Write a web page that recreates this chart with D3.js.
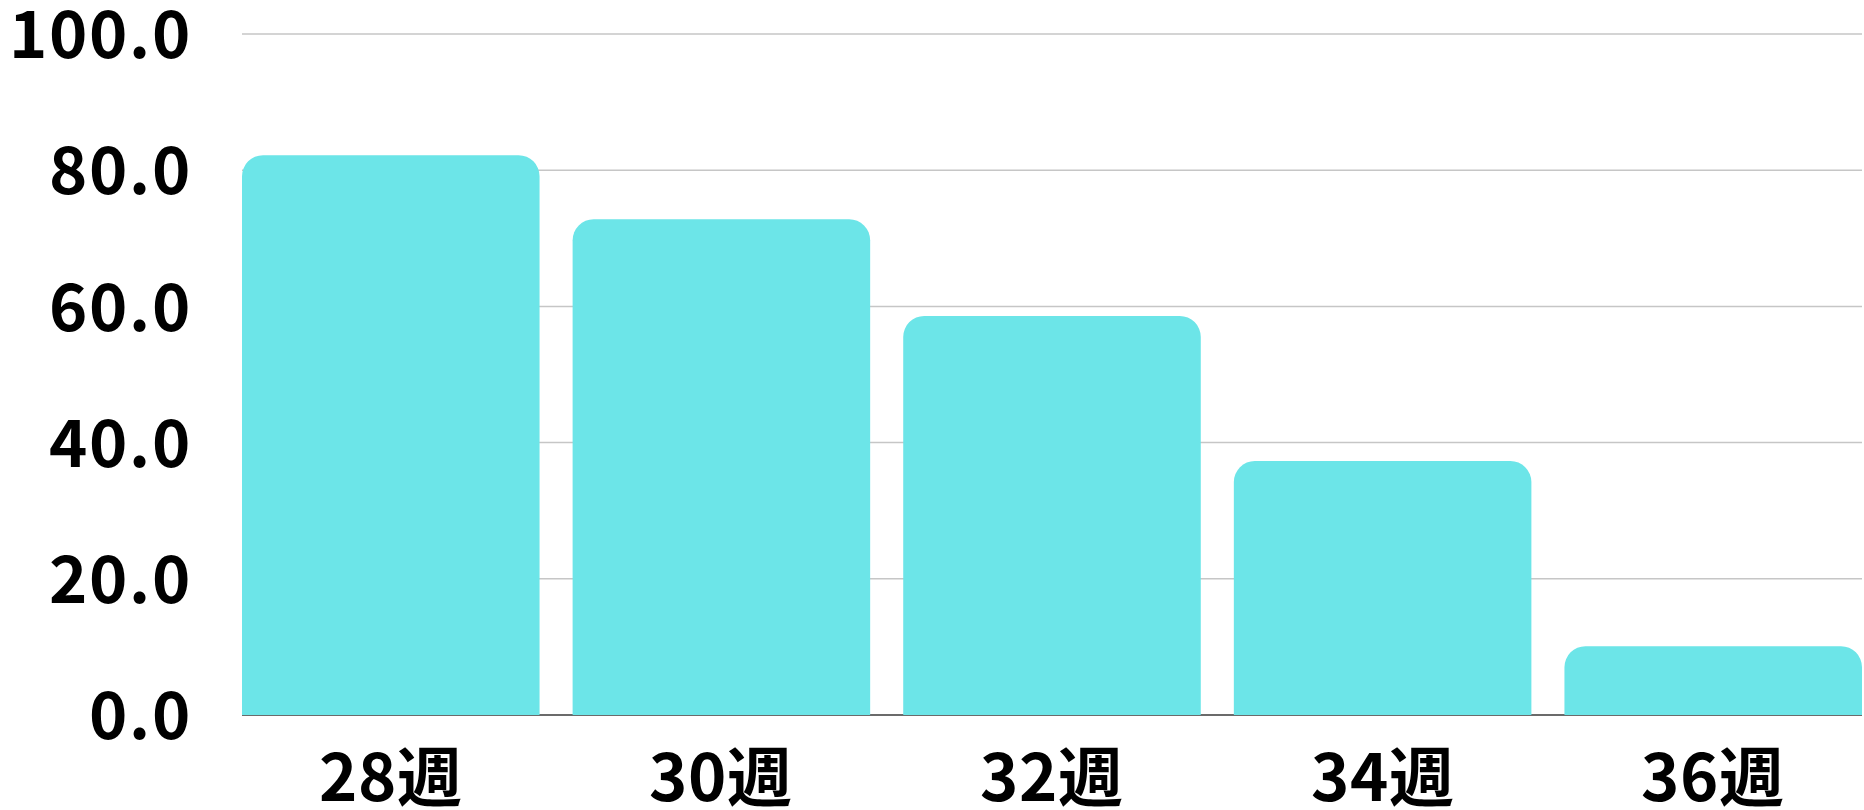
<!DOCTYPE html>
<html>
<head>
<meta charset="utf-8">
<script src="https://cdn.jsdelivr.net/npm/d3@7"></script>
<style>
  @font-face {
    font-family: "LabelJP";
    src: local("Noto Sans CJK JP Bold"), local("NotoSansCJKjp-Bold"), local("Noto Sans CJK JP");
    font-weight: 700;
    ascent-override: 88%;
    descent-override: 12%;
    line-gap-override: 0%;
  }
  body { margin: 0; background: #fff; }
  text { font-family: "LabelJP", "Noto Sans CJK JP", "Noto Sans", sans-serif; font-weight: 700; fill: #000; }
</style>
</head>
<body>
<script>
var weeks = ["28週", "30週", "32週", "34週", "36週"];
var values = [82.2, 72.8, 58.6, 37.3, 10.1];
var yTicks = [0, 20, 40, 60, 80, 100];

var margin = {left: 242, right: 2, top: 34, bottom: 95};
var width = 1864 - margin.left - margin.right;
var height = 810 - margin.top - margin.bottom;

var svg = d3.select("body")
  .append("svg")
  .attr("width", width + margin.left + margin.right)
  .attr("height", height + margin.top + margin.bottom);

var g = svg.append("g")
  .attr("transform", "translate(" + margin.left + "," + margin.top + ")");

var x = d3.scaleBand()
  .domain(weeks)
  .range([0, width])
  .paddingInner(0.1)
  .paddingOuter(0);

var y = d3.scaleLinear()
  .domain([0, 100])
  .range([height, 0]);

// gridlines
g.selectAll(".grid")
  .data(yTicks.filter(function(d) { return d > 0; }))
  .enter()
  .append("line")
  .attr("class", "grid")
  .attr("x1", 0)
  .attr("x2", width)
  .attr("y1", function(d) { return y(d); })
  .attr("y2", function(d) { return y(d); })
  .attr("stroke", "#c6c6c6")
  .attr("stroke-width", 1.5);

// baseline
g.append("line")
  .attr("x1", 0)
  .attr("x2", width)
  .attr("y1", y(0))
  .attr("y2", y(0))
  .attr("stroke", "#6b6b6b")
  .attr("stroke-width", 2);

// y axis labels
var yAxisCall = d3.axisLeft(y)
  .tickValues(yTicks)
  .tickFormat(d3.format(".1f"))
  .tickSize(0)
  .tickPadding(50);

g.append("g")
  .attr("class", "y axis")
  .call(yAxisCall)
  .call(function(s) { s.select(".domain").remove(); })
  .selectAll("text")
  .attr("font-size", "65px")
  .attr("font-family", null)
  .attr("letter-spacing", "2px")
  .attr("dy", "0.365em");

// x axis labels
var xAxisCall = d3.axisBottom(x).tickSize(0).tickPadding(40);
g.append("g")
  .attr("class", "x axis")
  .attr("transform", "translate(0," + height + ")")
  .call(xAxisCall)
  .call(function(s) { s.select(".domain").remove(); })
  .selectAll("text")
  .attr("font-size", "65px")
  .attr("font-family", null)
  .attr("letter-spacing", "1px");

// bars with rounded top corners
var r = 21;
function barPath(d, i) {
  var x0 = x(weeks[i]);
  var w = x.bandwidth();
  var y0 = y(d);
  var y1 = y(0);
  var rr = Math.min(r, (y1 - y0));
  return "M" + x0 + "," + y1 +
    "L" + x0 + "," + (y0 + rr) +
    "A" + rr + "," + rr + " 0 0 1 " + (x0 + rr) + "," + y0 +
    "L" + (x0 + w - rr) + "," + y0 +
    "A" + rr + "," + rr + " 0 0 1 " + (x0 + w) + "," + (y0 + rr) +
    "L" + (x0 + w) + "," + y1 + "Z";
}

g.selectAll(".bar")
  .data(values)
  .enter()
  .append("path")
  .attr("class", "bar")
  .attr("d", barPath)
  .attr("fill", "#6ce5e8");
</script>
</body>
</html>
